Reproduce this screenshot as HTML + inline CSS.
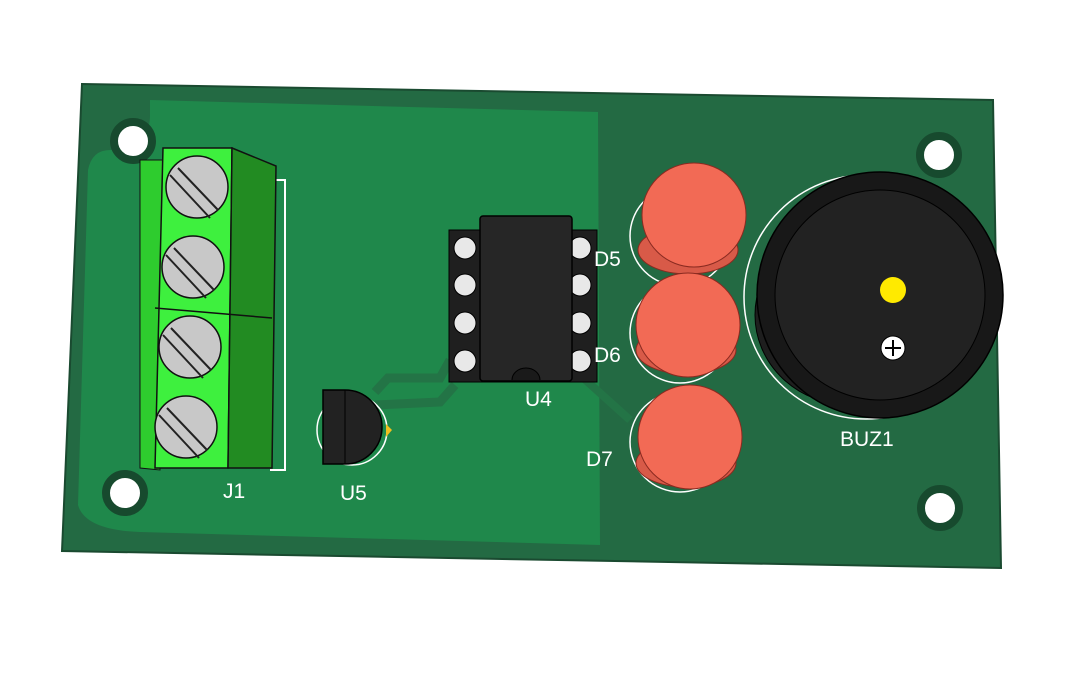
<!DOCTYPE html>
<html><head><meta charset="utf-8"><style>
html,body{margin:0;padding:0;background:#fff;width:1076px;height:684px;overflow:hidden}
svg text{font-family:"Liberation Sans",sans-serif;fill:#fff;font-size:21px}
</style></head><body>
<svg width="1076" height="684" viewBox="0 0 1076 684" xmlns="http://www.w3.org/2000/svg">
<!-- board -->
<polygon points="82,84 993,100 1001,568 62,551" fill="#236a43" stroke="#1a4a30" stroke-width="2"/>
<path d="M150,100 L598,112 L600,545 L140,532 Q85,530 78,505 L88,170 Q92,150 110,150 Q150,150 150,115 Z" fill="#1f884b"/>
<!-- traces -->
<path d="M375,392 L388,378 L440,378 L450,360" stroke="#237446" stroke-width="9" fill="none"/>
<path d="M375,405 L440,402 L455,385" stroke="#237446" stroke-width="9" fill="none"/>
<path d="M580,375 L630,420" stroke="#237446" stroke-width="8" fill="none"/>
<!-- holes -->
<g fill="#fff" stroke="#174a2e" stroke-width="8">
<circle cx="133" cy="141" r="19"/><circle cx="939" cy="155" r="19"/>
<circle cx="125" cy="493" r="19"/><circle cx="940" cy="508" r="19"/></g>
<!-- J1 -->
<polyline points="270,180 285,180 285,470 270,470" fill="none" stroke="#fff" stroke-width="2"/>
<polygon points="140,160 163,160 160,470 140,468" fill="#2ecc2e" stroke="#111" stroke-width="1"/>
<polygon points="163,148 232,148 228,468 155,468" fill="#3ef03e" stroke="#111" stroke-width="1.5"/>
<polygon points="232,148 276,166 272,468 228,468" fill="#228b22" stroke="#111" stroke-width="1.5"/>
<line x1="155" y1="308" x2="272" y2="318" stroke="#111" stroke-width="1.5"/>
<g fill="#c8c8c8" stroke="#111" stroke-width="1.5">
<circle cx="197" cy="187" r="31"/><circle cx="193" cy="267" r="31"/>
<circle cx="190" cy="347" r="31"/><circle cx="186" cy="427" r="31"/></g>
<g stroke="#222" stroke-width="2">
<path d="M178,168 L218,210 M170,175 L210,218"/><path d="M174,248 L214,290 M166,255 L206,298"/>
<path d="M171,328 L211,370 M163,335 L203,378"/><path d="M167,408 L207,450 M159,415 L199,458"/></g>
<text x="223" y="498">J1</text>
<!-- U5 -->
<circle cx="352" cy="430" r="35" fill="none" stroke="#fff" stroke-width="1.5"/>
<polygon points="386,424 392,430 386,437" fill="#f0c020"/>
<path d="M323,390 L345,390 A36,36 0 0 1 345,464 L323,464 Z" fill="#222" stroke="#000" stroke-width="1.5"/>
<line x1="345" y1="390" x2="345" y2="464" stroke="#000"/>
<text x="340" y="500">U5</text>
<!-- U4 -->
<rect x="449" y="230" width="148" height="152" fill="#1f1f1f" stroke="#000"/>
<g fill="#e8e8e8" stroke="#000" stroke-width="1">
<circle cx="465" cy="248" r="11"/><circle cx="465" cy="285" r="11"/><circle cx="465" cy="323" r="11"/><circle cx="465" cy="361" r="11"/>
<circle cx="580" cy="248" r="11"/><circle cx="580" cy="285" r="11"/><circle cx="580" cy="323" r="11"/><circle cx="580" cy="361" r="11"/></g>
<rect x="480" y="216" width="92" height="165" rx="3" fill="#262626" stroke="#000" stroke-width="1.5"/>
<path d="M512,380 A14,12 0 0 1 540,380" fill="#1a1a1a" stroke="#000"/>
<text x="525" y="406">U4</text>
<!-- LEDs -->
<g stroke="#fff" stroke-width="1.5" fill="none">
<circle cx="680" cy="236" r="50"/><circle cx="680" cy="333" r="50"/><circle cx="680" cy="442" r="50"/></g>
<g stroke="#8a2a20" stroke-width="1">
<ellipse cx="688" cy="250" rx="50" ry="24" fill="#d85a48"/>
<circle cx="694" cy="215" r="52" fill="#f26a55"/>
<ellipse cx="686" cy="350" rx="50" ry="24" fill="#d85a48"/>
<circle cx="688" cy="325" r="52" fill="#f26a55"/>
<ellipse cx="686" cy="463" rx="50" ry="24" fill="#d85a48"/>
<circle cx="690" cy="437" r="52" fill="#f26a55"/></g>
<text x="594" y="266">D5</text><text x="594" y="362">D6</text><text x="586" y="466">D7</text>
<!-- Buzzer -->
<circle cx="866" cy="297" r="122" fill="none" stroke="#fff" stroke-width="1.5"/>
<ellipse cx="850" cy="315" rx="95" ry="90" fill="#1e1e1e" stroke="#000"/>
<circle cx="880" cy="295" r="123" fill="#181818" stroke="#000" stroke-width="1.5"/>
<circle cx="880" cy="295" r="105" fill="#222" stroke="#000"/>
<circle cx="893" cy="290" r="13" fill="#ffea00"/>
<circle cx="893" cy="348" r="12" fill="#fff" stroke="#000"/>
<path d="M885,348 L901,348 M893,340 L893,356" stroke="#000" stroke-width="2"/>
<text x="840" y="446">BUZ1</text>
</svg>
</body></html>
